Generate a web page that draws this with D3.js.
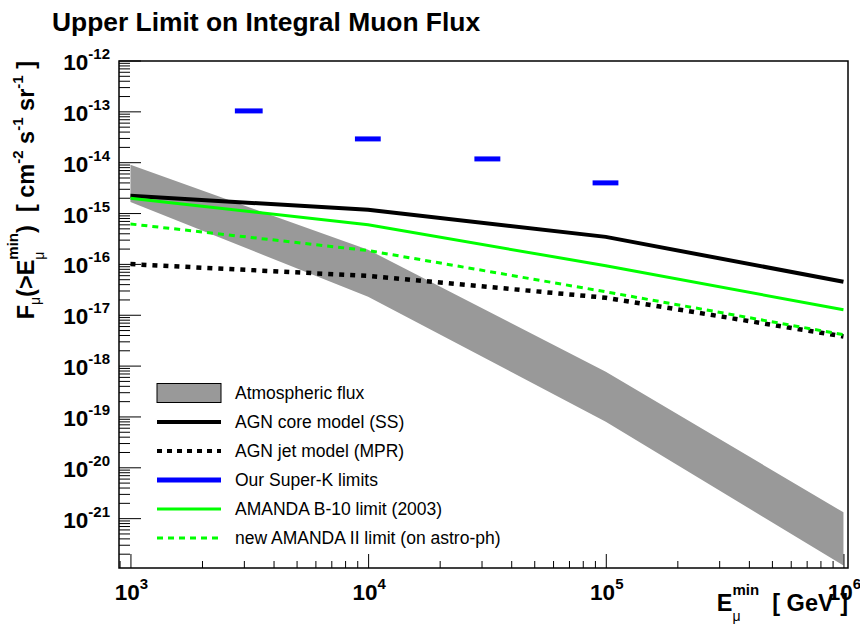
<!DOCTYPE html>
<html>
<head>
<meta charset="utf-8">
<script src="https://cdn.jsdelivr.net/npm/d3@7"></script>
<style>
body { margin: 0; background: #fff; }
svg text { font-family: "Liberation Sans", Arial, Helvetica, sans-serif; white-space: pre; }
</style>
</head>
<body>
<div id="chart-area"></div>
<script>
// Energies (GeV) where the model curves are sampled
const energies = [1e3, 1e4, 1e5, 1e6];

// Atmospheric muon flux band (upper / lower edge)
const atmUpper = [8.9e-15, 1.9e-16, 7.6e-19, 1.3e-21];
const atmLower = [1.65e-15, 2.25e-17, 7.9e-20, 1.17e-22];

// Model predictions and AMANDA limits
const agnCore = [2.18e-15, 1.16e-15, 3.4e-16, 4.45e-17];
const agnJet = [9.9e-17, 5.8e-17, 2.16e-17, 3.75e-18];
const amandaB10 = [1.96e-15, 5.86e-16, 9.2e-17, 1.25e-17];
const amandaII = [6.1e-16, 1.83e-16, 2.83e-17, 4.05e-18];

// Super-K limits: energy range and flux
const skLow = [2.75e3, 8.8e3, 2.8e4, 8.8e4];
const skHigh = [3.6e3, 1.13e4, 3.6e4, 1.13e5];
const skFlux = [1.02e-13, 2.87e-14, 1.16e-14, 3.92e-15];

// Tick exponents
const xTickExp = [3, 4, 5, 6];
const yTickExp = [-12, -13, -14, -15, -16, -17, -18, -19, -20, -21];

const legendLabels = ["Atmospheric flux", "AGN core model (SS)", "AGN jet model (MPR)",
	"Our Super-K limits", "AMANDA B-10 limit (2003)", "new AMANDA II limit (on astro-ph)"];

let width = 860, height = 625;
let frame = {left: 119, right: 848, top: 61, bottom: 568};

let svg = d3.select("#chart-area")
	.append("svg")
	.attr("width", width)
	.attr("height", height);

let x = d3.scaleLog()
	.domain([895, 1.045e6])
	.range([frame.left, frame.right]);

let y = d3.scaleLog()
	.domain([1e-22, 1e-12])
	.range([569, 60.5]);

svg.append("clipPath").attr("id", "frame-clip")
	.append("rect")
	.attr("x", frame.left).attr("y", frame.top)
	.attr("width", frame.right - frame.left)
	.attr("height", frame.bottom - frame.top);

let plot = svg.append("g").attr("clip-path", "url(#frame-clip)");

// Atmospheric band
let band = d3.area()
	.x((d, i) => x(energies[i]))
	.y0((d, i) => y(atmLower[i]))
	.y1((d, i) => y(atmUpper[i]));

plot.append("path")
	.datum(atmUpper)
	.attr("d", band)
	.attr("fill", "#999999");

let line = d3.line()
	.x((d, i) => x(energies[i]))
	.y(d => y(d));

let curves = [
	{values: agnCore, color: "#000", w: 4, dash: null},
	{values: agnJet, color: "#000", w: 4.5, dash: "5,6"},
	{values: amandaB10, color: "#00ff00", w: 3, dash: null},
	{values: amandaII, color: "#00ff00", w: 3, dash: "6,5"}
];

plot.selectAll(".curve")
	.data(curves)
	.enter()
	.append("path")
	.attr("class", "curve")
	.attr("d", d => line(d.values))
	.attr("fill", "none")
	.attr("stroke", d => d.color)
	.attr("stroke-width", d => d.w)
	.attr("stroke-dasharray", d => d.dash);

// Super-K limits
plot.selectAll(".sk")
	.data(skFlux)
	.enter()
	.append("line")
	.attr("class", "sk")
	.attr("x1", (d, i) => x(skLow[i]))
	.attr("x2", (d, i) => x(skHigh[i]))
	.attr("y1", d => y(d))
	.attr("y2", d => y(d))
	.attr("stroke", "#0000ff")
	.attr("stroke-width", 5);

// Ticks (inward, ROOT style)
let xMinor = [], yMinor = [];
for (let e = 2; e <= 5; e++) for (let k = 2; k <= 9; k++) xMinor.push(k * Math.pow(10, e));
for (let e = -22; e <= -13; e++) for (let k = 2; k <= 9; k++) yMinor.push(k * Math.pow(10, e));
xMinor = xMinor.filter(v => v > 895 && v < 1.045e6);

let axisX = svg.append("g").attr("transform", "translate(0," + frame.bottom + ")");
axisX.call(d3.axisBottom(x).tickValues(xMinor).tickSize(-7).tickFormat(""));
axisX.call(g => g.select(".domain").remove());
let axisXMaj = svg.append("g").attr("transform", "translate(0," + frame.bottom + ")");
axisXMaj.call(d3.axisBottom(x).tickValues(xTickExp.map(e => Math.pow(10, e))).tickSize(-14).tickFormat(""));
axisXMaj.call(g => g.select(".domain").remove());

let axisY = svg.append("g").attr("transform", "translate(" + frame.left + ",0)");
axisY.call(d3.axisLeft(y).tickValues(yMinor).tickSize(-11).tickFormat(""));
axisY.call(g => g.select(".domain").remove());
let axisYMaj = svg.append("g").attr("transform", "translate(" + frame.left + ",0)");
axisYMaj.call(d3.axisLeft(y).tickValues(yTickExp.map(e => Math.pow(10, e))).tickSize(-22).tickFormat(""));
axisYMaj.call(g => g.select(".domain").remove());
svg.selectAll(".tick line").attr("stroke", "#000").attr("stroke-width", 1);

// Frame
svg.append("rect")
	.attr("x", frame.left).attr("y", frame.top)
	.attr("width", frame.right - frame.left)
	.attr("height", frame.bottom - frame.top)
	.attr("fill", "none")
	.attr("stroke", "#000")
	.attr("stroke-width", 1.5);

// Tick labels 10^n
function powLabel(sel, e) {
	sel.append("tspan").text("10");
	sel.append("tspan").attr("dy", -11).attr("font-size", 15).text(e);
}

svg.selectAll(".ylab")
	.data(yTickExp)
	.enter()
	.append("text")
	.attr("class", "ylab")
	.attr("x", 110)
	.attr("y", d => y(Math.pow(10, d)) + 9.5)
	.attr("text-anchor", "end")
	.attr("font-size", 22.5)
	.attr("font-weight", "bold")
	.each(function(d) { powLabel(d3.select(this), d); });

svg.selectAll(".xlab")
	.data(xTickExp)
	.enter()
	.append("text")
	.attr("class", "xlab")
	.attr("x", d => x(Math.pow(10, d)) + 1)
	.attr("y", 600)
	.attr("text-anchor", "middle")
	.attr("font-size", 22.5)
	.attr("font-weight", "bold")
	.each(function(d) { powLabel(d3.select(this), d); });

// Title
svg.append("text")
	.attr("x", 52)
	.attr("y", 31)
	.attr("font-size", 26.4)
	.attr("font-weight", "bold")
	.text("Upper Limit on Integral Muon Flux");

// E_mu^min with stacked sub/superscript
function eMin(t) {
	t.append("tspan").text("E");
	let sup = t.append("tspan").attr("dy", -16).attr("font-size", 15).text("min");
	let wSup = sup.node().getComputedTextLength();
	let sub = t.append("tspan").attr("dx", -wSup).attr("dy", 26)
		.attr("font-size", 14).attr("font-weight", "normal").text("μ");
	let wSub = sub.node().getComputedTextLength();
	return {dx: wSup - wSub, dy: -10};
}

// X axis title
let xTitle = svg.append("text")
	.attr("x", 848)
	.attr("y", 611)
	.attr("text-anchor", "end")
	.attr("font-size", 23.5)
	.attr("font-weight", "bold");
let off = eMin(xTitle);
xTitle.append("tspan").attr("dx", off.dx).attr("dy", off.dy).text("  [ GeV ]");

// Y axis title
let yTitle = svg.append("text")
	.attr("transform", "rotate(-90)")
	.attr("x", -61)
	.attr("y", 34)
	.attr("text-anchor", "end")
	.attr("font-size", 23.5)
	.attr("font-weight", "bold");
yTitle.append("tspan").text("F");
yTitle.append("tspan").attr("dy", 6).attr("font-size", 14).attr("font-weight", "normal").text("μ");
yTitle.append("tspan").attr("dy", -6).text("(>");
off = eMin(yTitle);
yTitle.append("tspan").attr("dx", off.dx).attr("dy", off.dy).text(")  [ cm");
yTitle.append("tspan").attr("dy", -11).attr("font-size", 15).text("-2");
yTitle.append("tspan").attr("dy", 11).text(" s");
yTitle.append("tspan").attr("dy", -11).attr("font-size", 15).text("-1");
yTitle.append("tspan").attr("dy", 11).text(" sr");
yTitle.append("tspan").attr("dy", -11).attr("font-size", 15).text("-1");
yTitle.append("tspan").attr("dy", 11).text(" ]");

// Legend
let legend = svg.append("g").attr("transform", "translate(157,393)");
let rowH = 29;
let legendStyles = [
	{type: "box"},
	{color: "#000", w: 4, dash: null},
	{color: "#000", w: 4, dash: "5,5"},
	{color: "#0000ff", w: 5, dash: null},
	{color: "#00ff00", w: 3, dash: null},
	{color: "#00ff00", w: 3, dash: "6,5"}
];

legendLabels.forEach((label, i) => {
	let row = legend.append("g").attr("transform", "translate(0," + (i * rowH) + ")");
	let s = legendStyles[i];
	if (s.type === "box") {
		row.append("rect")
			.attr("x", 0).attr("y", -9.5)
			.attr("width", 64).attr("height", 19)
			.attr("fill", "#999999")
			.attr("stroke", "#000")
			.attr("stroke-width", 1);
	} else {
		row.append("line")
			.attr("x1", 0).attr("x2", 64)
			.attr("stroke", s.color)
			.attr("stroke-width", s.w)
			.attr("stroke-dasharray", s.dash);
	}
	row.append("text")
		.attr("x", 78)
		.attr("y", 6)
		.attr("font-size", 17.5)
		.text(label);
});
</script>
</body>
</html>
